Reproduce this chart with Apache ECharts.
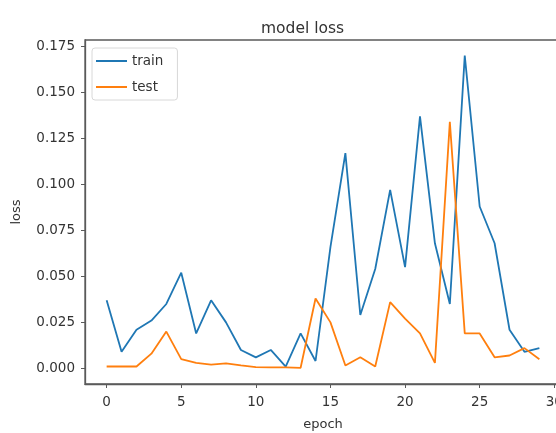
<!DOCTYPE html>
<html>
<head>
<meta charset="utf-8">
<script src="https://cdn.jsdelivr.net/npm/echarts@6/dist/echarts.min.js"></script>
<style>
  html, body { margin: 0; padding: 0; background: #fff; }
  #chart { width: 556px; height: 433px; }
</style>
</head>
<body>
<div id="chart"></div>
<script>
// loss per epoch
var epochs = [0,1,2,3,4,5,6,7,8,9,10,11,12,13,14,15,16,17,18,19,20,21,22,23,24,25,26,27,28,29];
var trainLoss = [0.037,0.009,0.021,0.026,0.035,0.052,0.019,0.037,0.025,0.010,0.006,0.010,0.001,0.019,0.004,
                 0.066,0.117,0.029,0.054,0.097,0.055,0.137,0.068,0.035,0.170,0.088,0.068,0.021,0.009,0.011];
var testLoss = [0.001,0.001,0.001,0.008,0.020,0.005,0.003,0.002,0.0027,0.0016,0.0007,0.0005,0.0005,0.0003,0.038,
                0.025,0.0016,0.006,0.001,0.036,0.027,0.019,0.003,0.134,0.019,0.019,0.006,0.007,0.011,0.005];
var xTicks = [0,5,10,15,20,25,30];
var yTicks = [0,0.025,0.05,0.075,0.1,0.125,0.15,0.175];

function pairs(ys){
  return epochs.map(function(e, i){ return [e, ys[i]]; });
}

var chart = echarts.init(document.getElementById('chart'));
var textColor = '#333';
var spine = '#5a5a5a';
var font = 'DejaVu Sans';
var option = {
  animation: false,
  title: {
    text: 'model loss',
    left: 256,
    top: 16,
    textStyle: { fontFamily: font, fontSize: 15.5, fontWeight: 'normal', color: textColor }
  },
  legend: {
    orient: 'vertical',
    left: 92,
    top: 48,
    data: ['train', 'test'],
    icon: 'rect',
    itemWidth: 31,
    itemHeight: 2,
    itemGap: 12,
    padding: [6, 14, 6, 4],
    backgroundColor: '#fff',
    borderColor: '#d8d8d8',
    borderWidth: 1,
    borderRadius: 3,
    textStyle: { fontFamily: font, fontSize: 13.5, color: textColor }
  },
  grid: {
    left: 85, top: 40, right: -5, bottom: 49,
    outerBoundsMode: 'none',
    show: true, borderColor: spine, borderWidth: 1.3, backgroundColor: '#fff'
  },
  xAxis: {
    type: 'value',
    min: -1.45,
    max: 30.45,
    name: 'epoch',
    nameLocation: 'middle',
    nameGap: 34,
    nameTextStyle: { fontFamily: font, fontSize: 13, color: textColor },
    axisLine: { show: true, onZero: false, lineStyle: { color: spine, width: 1.3 } },
    axisTick: { show: true, length: 4, customValues: xTicks, lineStyle: { color: spine } },
    axisLabel: { customValues: xTicks, margin: 11, fontFamily: font, fontSize: 13.5, color: textColor },
    splitLine: { show: false }
  },
  yAxis: {
    type: 'value',
    min: -0.0085,
    max: 0.1785,
    name: 'loss',
    nameLocation: 'middle',
    nameGap: 62,
    nameTextStyle: { fontFamily: font, fontSize: 13, color: textColor },
    axisLine: { show: true, onZero: false, lineStyle: { color: spine, width: 1.3 } },
    axisTick: { show: true, length: 4, customValues: yTicks, lineStyle: { color: spine } },
    axisLabel: {
      customValues: yTicks, margin: 10, fontFamily: font, fontSize: 13.5, color: textColor,
      formatter: function(v){ return v.toFixed(3); }
    },
    splitLine: { show: false }
  },
  series: [
    {
      name: 'train', type: 'line', data: pairs(trainLoss), symbol: 'none',
      color: '#1f77b4', lineStyle: { width: 1.8, color: '#1f77b4' }
    },
    {
      name: 'test', type: 'line', data: pairs(testLoss), symbol: 'none',
      color: '#ff7f0e', lineStyle: { width: 1.8, color: '#ff7f0e' }
    }
  ]
};
chart.setOption(option);
</script>
</body>
</html>
